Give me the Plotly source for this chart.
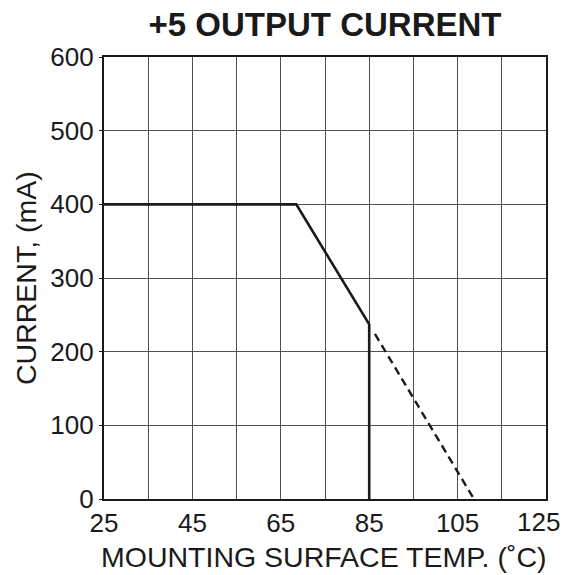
import plotly.graph_objects as go

# Data
temp_solid = [25, 68.5, 85, 85]
current_solid = [400, 400, 237, 0]
temp_dashed = [86.3, 108.7]
current_dashed = [224, 0]

x_tick_vals = [25, 45, 65, 85, 105, 125]
y_tick_vals = [0, 100, 200, 300, 400, 500, 600]

FONT = "Liberation Sans, Arial, Helvetica, sans-serif"

fig = go.Figure()
fig.add_trace(go.Scatter(x=temp_solid, y=current_solid, mode="lines",
                         line=dict(color="#1a1a1a", width=2.6), showlegend=False,
                         hoverinfo="skip"))
fig.add_trace(go.Scatter(x=temp_dashed, y=current_dashed, mode="lines",
                         line=dict(color="#1a1a1a", width=2.4, dash="8px,5px"),
                         showlegend=False, hoverinfo="skip"))

# page body has an 8px margin; figure sized to end at the window edges
OFF = 8
W, H = 571 - OFF, 575 - OFF
L, T = 104 - OFF, 57 - OFF
R = W - (546 - OFF)
B = H - (499 - OFF)
plot_w = W - L - R
plot_h = H - T - B

# the last x tick label sits slightly left of its grid line (as in the reference)
main_x_ticks = x_tick_vals[:-1]
last_x_tick = x_tick_vals[-1]

fig.update_layout(
    width=W, height=H,
    margin=dict(l=L, r=R, t=T, b=B),
    paper_bgcolor="white", plot_bgcolor="white",
    font=dict(family=FONT, color="#1a1a1a"),
    title=dict(text="<b>+5 OUTPUT CURRENT</b>", x=(325 - OFF) / W, xanchor="center",
               y=1 - (24 - OFF) / H, yanchor="middle",
               font=dict(size=33, family=FONT, color="#1a1a1a")),
    xaxis=dict(range=[25, 125], tickvals=main_x_ticks,
               ticktext=[str(v) for v in main_x_ticks], automargin=False,
               showgrid=True, gridcolor="#505050", gridwidth=1,
               minor=dict(dtick=10, tick0=25, showgrid=True, gridcolor="#505050", gridwidth=1),
               showline=True, linecolor="#1a1a1a", linewidth=2.2, mirror=True,
               ticks="", zeroline=False,
               tickfont=dict(size=26, family=FONT, color="#1a1a1a")),
    yaxis=dict(range=[0, 600], tickvals=y_tick_vals,
               ticktext=[str(v) for v in y_tick_vals], automargin=False,
               showgrid=True, gridcolor="#505050", gridwidth=1,
               showline=True, linecolor="#1a1a1a", linewidth=2.2, mirror=True,
               ticks="outside", ticklen=3, tickcolor="#1a1a1a", zeroline=False,
               tickfont=dict(size=26, family=FONT, color="#1a1a1a")),
)

fig.add_annotation(text=str(last_x_tick), x=last_x_tick, xref="x", yref="paper", y=0,
                   xanchor="center", yanchor="middle", xshift=-8, yshift=-23,
                   showarrow=False, font=dict(size=26, family=FONT, color="#1a1a1a"))
fig.add_annotation(text="MOUNTING SURFACE TEMP. (˚C)", xref="paper", yref="paper",
                   x=(323 - 104) / plot_w, y=-(557 - 499) / plot_h,
                   xanchor="center", yanchor="middle", showarrow=False,
                   font=dict(size=28.5, family=FONT, color="#1a1a1a"))
fig.add_annotation(text="CURRENT, (mA)", xref="paper", yref="paper",
                   x=-(104 - 26) / plot_w, y=0.5, textangle=-90,
                   xanchor="center", yanchor="middle", showarrow=False,
                   font=dict(size=28.5, family=FONT, color="#1a1a1a"))

fig.write_html("out.html")
